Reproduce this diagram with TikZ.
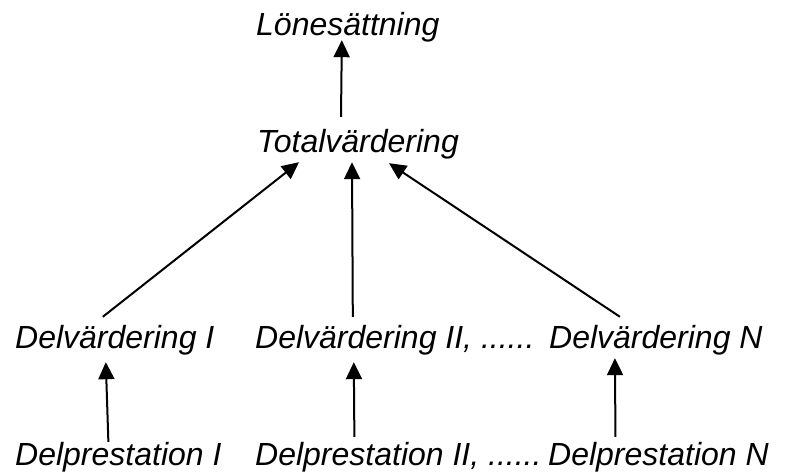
\documentclass[tikz,border=0pt]{standalone}
\usepackage{fontspec}
\setmainfont{Liberation Sans}
\usepackage{tikz}
\usetikzlibrary{arrows.meta}

\begin{document}
\begin{tikzpicture}[x=1pt, y=1pt,
  lbl/.style={anchor=base west,inner sep=0pt,text height=23pt,text depth=7pt,
    font=\itshape\fontsize{32}{38}\selectfont},
  arrow/.style={->,>={Triangle[length=17pt,width=16pt]},line width=2pt}]
  \useasboundingbox (0,0) rectangle (787,473);
  \node[lbl] (lon) at (256,437) {Lönesättning};
  \node[lbl] (tot) at (257,320) {Totalvärdering};
  \node[lbl] (dv1) at (15,124) {Delvärdering I};
  \node[lbl] (dv2) at (255,124) {Delvärdering II, ......};
  \node[lbl] (dvn) at (549,124) {Delvärdering N};
  \node[lbl] (dp1) at (15,7) {Delprestation I};
  \node[lbl] (dp2) at (255,7) {Delprestation II, ......};
  \node[lbl] (dpn) at (548,7) {Delprestation N};
  \draw[arrow] ([xshift=-17pt,yshift=13pt]tot.north) -- ([xshift=-6pt,yshift=3pt]lon.south);
  \draw[arrow] ([xshift=-12pt,yshift=9pt]dv1.north) -- ([xshift=-59pt,yshift=-2pt]tot.south);
  \draw[arrow] ([xshift=-42pt,yshift=9pt]dv2.north) -- ([xshift=-6pt,yshift=-2pt]tot.south);
  \draw[arrow] ([xshift=-36pt,yshift=9pt]dvn.north) -- ([xshift=31pt,yshift=-3pt]tot.south);
  \draw[arrow] ([xshift=-10pt,yshift=1pt]dp1.north) -- ([xshift=-9pt,yshift=-6pt]dv1.south);
  \draw[arrow] ([xshift=-44pt,yshift=6pt]dp2.north) -- ([xshift=-41pt,yshift=-6pt]dv2.south);
  \draw[arrow] ([xshift=-43pt,yshift=6pt]dpn.north) -- ([xshift=-41pt,yshift=-2pt]dvn.south);
\end{tikzpicture}
\end{document}
